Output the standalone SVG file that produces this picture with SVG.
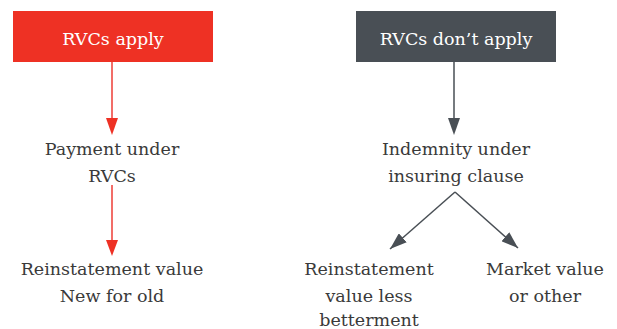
<svg xmlns="http://www.w3.org/2000/svg" width="617" height="329" viewBox="0 0 617 329">
  <defs>
    <marker id="ah-grey" markerWidth="17" markerHeight="12" refX="17" refY="6" orient="auto" markerUnits="userSpaceOnUse" viewBox="0 0 17 12">
      <path d="M0,0 L17,6 L0,12 Z" fill="#494f55"/>
    </marker>
  </defs>
  <style>
    .label { font-family: "DejaVu Serif", "Liberation Serif", serif; font-size: 17.5px; fill: #3a3a3a; text-anchor: middle; }
    .boxlabel { font-family: "DejaVu Serif", "Liberation Serif", serif; font-size: 17.5px; fill: #ffffff; text-anchor: middle; }
    .red { stroke: #ee3d36; stroke-width: 1.5; fill: none; }
    .grey { stroke: #494f55; stroke-width: 1.5; fill: none; }
  </style>
  <rect width="617" height="329" fill="#ffffff"/>

  <g id="connectors">
    <path class="red" d="M112,62 L112,118"/>
    <path d="M106,118 L118,118 L112,135 Z" fill="#ee3124"/>
    <path class="red" d="M112,185 L112,240"/>
    <path d="M106,240 L118,240 L112,256 Z" fill="#ee3124"/>
    <path class="grey" d="M454,62 L454,118"/>
    <path d="M448,118 L460,118 L454,135 Z" fill="#494f55"/>
    <path class="grey" d="M455,192 L390,249" marker-end="url(#ah-grey)"/>
    <path class="grey" d="M455,192 L518,248" marker-end="url(#ah-grey)"/>
  </g>

  <g id="rvcs-apply">
    <rect x="13" y="11" width="200" height="51" fill="#ee3124"/>
    <text class="boxlabel" x="113" y="45">RVCs apply</text>
  </g>
  <g id="rvcs-dont-apply">
    <rect x="356" y="11" width="200" height="51" fill="#494f55"/>
    <text class="boxlabel" x="456" y="45">RVCs don’t apply</text>
  </g>
  <g id="payment-under-rvcs">
    <text class="label" x="112" y="155">Payment under</text>
    <text class="label" x="112" y="182">RVCs</text>
  </g>
  <g id="reinstatement-new-for-old">
    <text class="label" x="112" y="275">Reinstatement value</text>
    <text class="label" x="112" y="302">New for old</text>
  </g>
  <g id="indemnity">
    <text class="label" x="456" y="155">Indemnity under</text>
    <text class="label" x="456" y="182">insuring clause</text>
  </g>
  <g id="reinstatement-less-betterment">
    <text class="label" x="369" y="275">Reinstatement</text>
    <text class="label" x="369" y="302">value less</text>
    <text class="label" x="369" y="326">betterment</text>
  </g>
  <g id="market-value">
    <text class="label" x="545" y="275">Market value</text>
    <text class="label" x="545" y="302">or other</text>
  </g>
</svg>
